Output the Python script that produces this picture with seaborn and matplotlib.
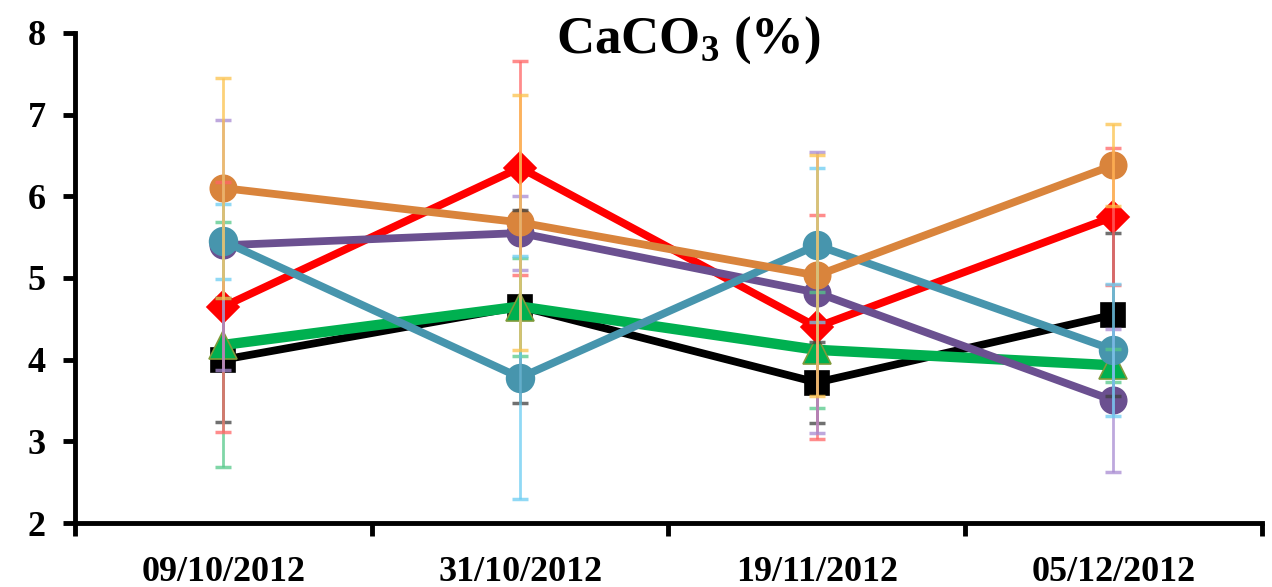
import pandas as pd
import matplotlib.pyplot as plt
import seaborn as sns
from matplotlib.ticker import FixedLocator

# --- data ---
dates = ["09/10/2012", "31/10/2012", "19/11/2012", "05/12/2012"]

black_vals = [4.00, 4.65, 3.72, 4.55]
black_err = [0.76, 1.18, 0.49, 1.00]
green_vals = [4.18, 4.65, 4.12, 3.93]
green_err = [1.50, 0.60, 0.71, 0.20]
red_vals = [4.65, 6.35, 4.40, 5.75]
red_err = [1.53, 1.31, 1.37, 0.84]
purple_vals = [5.40, 5.55, 4.82, 3.50]
purple_err = [1.53, 0.45, 1.72, 0.87]
teal_vals = [5.45, 3.78, 5.40, 4.12]
teal_err = [0.46, 1.49, 0.94, 0.81]
orange_vals = [6.10, 5.68, 5.03, 6.38]
orange_err = [1.35, 1.56, 1.48, 0.50]

sns.set_style("white")
plt.rcParams['font.family'] = ['Liberation Serif', 'DejaVu Serif']
plt.rcParams['font.weight'] = 'bold'
plt.rcParams['text.color'] = 'black'
plt.rcParams['xtick.color'] = 'black'
plt.rcParams['ytick.color'] = 'black'
plt.rcParams['mathtext.fontset'] = 'custom'
plt.rcParams['mathtext.rm'] = 'Liberation Serif:bold'
plt.rcParams['mathtext.bf'] = 'Liberation Serif:bold'

# name, values, errors, line colour, error colour, marker, marker size, line width, zorder
series = [
    ("black", black_vals, black_err, "#000000", "#404040", "s", 17, 5.6, 2),
    ("green", green_vals, green_err, "#00b050", "#55c98a", "^", 20, 7.5, 3),
    ("red", red_vals, red_err, "#ff0000", "#ff6666", "D", 16, 5.6, 4),
    ("purple", purple_vals, purple_err, "#6b5090", "#a88bd2", "o", 19, 5.6, 5),
    ("teal", teal_vals, teal_err, "#4795ad", "#6ccdf2", "o", 20, 5.6, 6),
    ("orange", orange_vals, orange_err, "#d9843c", "#fcc24c", "o", 19, 5.6, 7),
]

fig, ax = plt.subplots(figsize=(12.72, 5.87), dpi=100)
fig.subplots_adjust(left=0.059, right=0.992, bottom=0.109, top=0.944)

pos = list(range(len(dates)))
for name, vals, err, col, ecol, mk, ms, lw, z in series:
    df = pd.DataFrame({"pos": pos, "val": vals})
    edge = "#7f9a3a" if mk == "^" else col
    sns.lineplot(data=df, x="pos", y="val", ax=ax, color=col, linewidth=lw,
                 marker=mk, markersize=ms, markeredgecolor=edge,
                 markeredgewidth=1.2, sort=False, zorder=z)
    ax.errorbar(pos, vals, yerr=err, fmt="none", ecolor=ecol, elinewidth=2,
                capsize=6, capthick=2.5, alpha=0.75, zorder=10)

# --- axes styling ---
ax.set_xlim(-0.5, 3.5)
ax.set_ylim(2, 8)
ax.set_yticks(range(2, 9))
ax.set_xticks(pos)
ax.set_xticklabels(dates, fontsize=26, fontweight='bold')
ax.xaxis.set_minor_locator(FixedLocator([-0.5, 0.5, 1.5, 2.5, 3.5]))
ax.tick_params(axis='x', which='major', bottom=False, length=0, pad=24)
ax.tick_params(axis='x', which='minor', bottom=True, length=9, width=3.5,
               direction='out')
ax.tick_params(axis='y', left=True, length=9, width=3.5, direction='out',
               labelsize=26, pad=12)
for lbl in ax.get_yticklabels():
    lbl.set_fontweight('bold')
ax.set_xlabel("")
ax.set_ylabel("")

for side in ["top", "right"]:
    ax.spines[side].set_visible(False)
for side in ["left", "bottom"]:
    ax.spines[side].set_linewidth(3.5)
    ax.spines[side].set_color("black")

ax.text(0.517, 0.985, r"CaCO$_\mathbf{3}$ (%)", transform=ax.transAxes,
        ha="center", va="center", fontsize=38, fontweight="bold")

plt.savefig("out.png", dpi=100)
